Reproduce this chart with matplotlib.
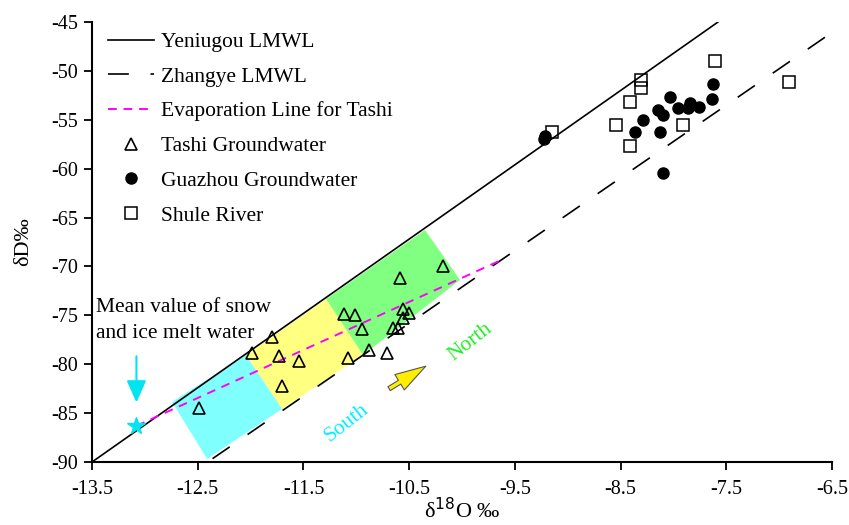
import matplotlib
matplotlib.use("Agg")
import matplotlib.pyplot as plt
from matplotlib.patches import Polygon
import numpy as np

plt.rcParams['font.family'] = ['Liberation Serif', 'DejaVu Serif']
plt.rcParams['font.size'] = 15

# LMWL parameters (slope, intercept)
yeniugou = (7.6, 12.6)
zhangye = (7.44, 2.3)
yen_x = [-13.5, -7.58]
zha_x = [-12.36, -6.5]

# evaporation line end points
evap_x = [-13.08, -9.6]
evap_y = [-86.3, -69.2]

# Tashi groundwater
tashi_x = [-12.485, -11.989, -11.795, -11.731, -11.706, -11.545, -11.115, -11.012,
           -11.082, -10.949, -10.877, -10.713, -10.586, -10.556, -10.499, -10.562,
           -10.65, -10.603, -10.177]
tashi_y = [-84.5, -78.81, -77.18, -79.14, -82.21, -79.62, -74.85, -74.96,
           -79.38, -76.41, -78.54, -78.88, -71.14, -74.38, -74.79, -75.3,
           -76.26, -76.32, -69.95]

# Guazhou groundwater
guaz_x = [-9.214, -9.224, -8.36, -8.285, -8.13, -8.149, -8.098, -8.029, -7.953,
          -7.858, -7.846, -7.761, -7.629, -7.635, -8.101]
guaz_y = [-56.66, -56.99, -56.22, -55.02, -56.28, -54.0, -54.54, -52.67, -53.79,
          -53.76, -53.31, -53.69, -51.34, -52.87, -60.47]

# Shule River
shule_x = [-9.151, -8.311, -8.311, -8.41, -8.543, -7.913, -8.41, -7.606, -6.903]
shule_y = [-56.22, -50.93, -51.78, -53.21, -55.5, -55.5, -57.65, -48.95, -51.17]

# zones (south -> north)
zone_cyan = [(-12.743, -83.85), (-12.043, -79.05), (-11.702, -84.57), (-12.412, -89.68)]
zone_yellow = [(-12.043, -79.05), (-11.286, -73.32), (-10.936, -79.05), (-11.702, -84.57)]
zone_green = [(-11.286, -73.32), (-10.35, -66.27), (-10.019, -71.38), (-10.936, -79.05)]

snow_x, snow_y = -13.08, -86.3

fig = plt.figure(figsize=(8.49, 5.25), dpi=100)
ax = fig.add_axes([0.1084, 0.12, 0.8716, 0.838])

for pts, col in [(zone_cyan, '#80ffff'), (zone_yellow, '#ffff80'), (zone_green, '#80ff80')]:
    ax.add_patch(Polygon(pts, closed=True, facecolor=col, edgecolor='none', zorder=1))

xx = np.array(yen_x)
ax.plot(xx, yeniugou[0] * xx + yeniugou[1], 'k-', lw=1.2, label='Yeniugou LMWL', zorder=3)
xx = np.array(zha_x)
ax.plot(xx, zhangye[0] * xx + zhangye[1], 'k', lw=1.2, dashes=(12.5, 13),
        label='Zhangye LMWL', zorder=3)
ax.plot(evap_x, evap_y, color='#ff00ff', lw=1.4, dashes=(4.5, 3.5),
        label='Evaporation Line for Tashi', zorder=3)

ax.plot(tashi_x, tashi_y, '^', ms=9, mfc='none', mec='black', mew=1.2,
        ls='none', label='Tashi Groundwater', zorder=4)
ax.plot(guaz_x, guaz_y, 'o', ms=8, color='black', ls='none',
        label='Guazhou Groundwater', zorder=4)
ax.plot(shule_x, shule_y, 's', ms=8.5, mfc='none', mec='black', mew=1.1,
        ls='none', label='Shule River', zorder=4)

# snow / ice melt
ax.plot(snow_x, snow_y, '*', ms=13, color='#00e5f0', zorder=5)
ax.annotate('', xy=(snow_x, -84.2), xytext=(snow_x, -78.9),
            arrowprops=dict(arrowstyle='-|>,head_length=0.9,head_width=0.4',
                            color='#00e5f0', lw=1.5))
ax.text(-13.46, -74.2, 'Mean value of snow', ha='left', va='center', fontsize=15.5)
ax.text(-13.46, -76.9, 'and ice melt water', ha='left', va='center', fontsize=15.5)

# direction arrow
ax.annotate('', xy=(-10.343, -80.2), xytext=(-10.69, -82.5),
            arrowprops=dict(arrowstyle='simple,head_length=1.7,head_width=1.0,tail_width=0.25',
                            fc='#ffee00', ec='#555555', lw=0.8, shrinkA=0, shrinkB=0,
                            mutation_scale=13))
ax.text(-11.09, -86.0, 'South', color='#00f0ff', rotation=38, ha='center', va='center',
        fontsize=15.5)
ax.text(-9.924, -77.7, 'North', color='#22ee22', rotation=38, ha='center', va='center',
        fontsize=15.5)

ax.set_xlim(-13.5, -6.5)
ax.set_ylim(-90, -45)
ax.set_xticks(np.arange(-13.5, -6.4, 1.0))
ax.set_xticklabels(['-13.5', '-12.5', '-11.5', '-10.5', '-9.5', '-8.5', '-7.5', '-6.5'])
ax.set_yticks(np.arange(-90, -44, 5))
ax.set_yticklabels([str(v) for v in range(-90, -44, 5)])
ax.spines['top'].set_visible(False)
ax.spines['right'].set_visible(False)
ax.spines['left'].set_linewidth(1.5)
ax.spines['bottom'].set_linewidth(1.5)
ax.tick_params(direction='out', length=6, width=1.3, labelsize=14.5)
ax.tick_params(axis='x', pad=7)
ax.tick_params(axis='y', pad=4)
ax.set_xlabel('δ$^{18}$O ‰', fontsize=16, labelpad=-1)
ax.set_ylabel('δD‰', fontsize=16, labelpad=13)

ax.legend(loc='upper left', bbox_to_anchor=(0.0105, 0.997), frameon=False, fontsize=15.5,
          handlelength=2.1, handletextpad=0.35, labelspacing=0.68, borderaxespad=0)

fig.savefig('out.png', dpi=100)
